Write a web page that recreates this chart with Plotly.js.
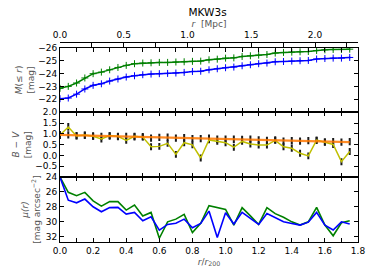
<!DOCTYPE html>
<html>
<head>
<meta charset="utf-8">
<script src="https://cdn.plot.ly/plotly-3.0.1.min.js"></script>
<style>html,body{margin:0;padding:0;background:#fff}#chart{width:374px;height:280px}</style>
</head>
<body>
<div id="chart"></div>
<script>
// r / r200 sampling of the profiles
const rr200 = [0.00,0.05,0.10,0.15,0.20,0.25,0.30,0.35,0.40,0.45,0.50,0.55,0.60,0.65,0.70,0.75,0.80,0.85,0.90,0.95,1.00,1.05,1.10,1.15,1.20,1.25,1.30,1.35,1.40,1.45,1.50,1.55,1.60,1.65,1.70,1.75];

// cumulative magnitude M(<= r)
const magGreen = [-22.85,-23.00,-23.26,-23.65,-23.98,-24.10,-24.28,-24.46,-24.62,-24.75,-24.80,-24.82,-24.85,-24.85,-24.88,-24.90,-24.93,-24.95,-25.05,-25.10,-25.18,-25.20,-25.31,-25.36,-25.41,-25.46,-25.57,-25.62,-25.64,-25.67,-25.69,-25.77,-25.82,-25.85,-25.85,-25.87];
const magBlue  = [-22.05,-22.10,-22.40,-22.80,-23.08,-23.20,-23.41,-23.57,-23.72,-23.82,-23.90,-23.95,-23.98,-24.00,-24.03,-24.08,-24.15,-24.17,-24.28,-24.36,-24.44,-24.49,-24.59,-24.67,-24.75,-24.80,-24.90,-24.92,-24.95,-24.98,-25.00,-25.11,-25.15,-25.18,-25.18,-25.23];
const magErr = [0.08,0.08,0.08,0.08,0.08,0.08,0.08,0.08,0.08,0.08,0.08,0.08,0.08,0.08,0.08,0.08,0.08,0.08,0.08,0.08,0.08,0.08,0.08,0.08,0.08,0.08,0.08,0.08,0.08,0.08,0.08,0.08,0.08,0.08,0.08,0.08];

// B - V colour
const bvLocal = [0.95,1.32,0.90,0.95,0.89,0.76,0.92,0.89,0.70,0.89,0.85,0.40,0.42,0.56,0.05,0.59,0.49,-0.12,0.72,0.65,0.59,0.38,0.65,0.53,0.48,0.48,0.70,0.40,0.33,0.10,-0.02,0.71,0.62,0.51,-0.29,0.18];
const bvLocalErr = [0.18,0.18,0.16,0.16,0.16,0.16,0.16,0.16,0.16,0.16,0.16,0.16,0.16,0.16,0.16,0.16,0.16,0.16,0.16,0.16,0.16,0.16,0.16,0.16,0.16,0.16,0.16,0.16,0.16,0.16,0.16,0.16,0.16,0.16,0.16,0.16];
const bvCum = [0.93,0.95,0.92,0.93,0.90,0.88,0.90,0.87,0.88,0.86,0.87,0.80,0.84,0.85,0.80,0.82,0.78,0.78,0.80,0.75,0.76,0.75,0.74,0.76,0.72,0.70,0.72,0.66,0.68,0.66,0.69,0.70,0.62,0.64,0.62,0.64];
const bvCumErr = [0.17,0.17,0.17,0.17,0.17,0.17,0.17,0.17,0.17,0.17,0.17,0.17,0.17,0.17,0.17,0.17,0.17,0.17,0.17,0.17,0.17,0.17,0.17,0.17,0.17,0.17,0.17,0.17,0.17,0.17,0.17,0.17,0.17,0.17,0.17,0.17];
const bvFit = [0.95,0.94,0.93,0.92,0.91,0.90,0.89,0.88,0.88,0.87,0.86,0.85,0.84,0.83,0.82,0.81,0.80,0.79,0.78,0.77,0.76,0.75,0.74,0.73,0.73,0.72,0.71,0.70,0.69,0.68,0.67,0.66,0.65,0.64,0.63,0.62];

// surface brightness mu(r)
const muGreen = [24.0,26.05,26.5,26.05,27.2,27.9,27.3,27.3,28.43,27.76,29.23,28.74,32.2,30.0,29.64,29.0,31.43,30.2,27.85,28.1,28.34,30.44,28.1,29.2,30.35,28.1,28.9,29.4,30.0,30.44,30.0,28.07,30.44,31.87,30.13,29.86];
const muBlue  = [24.0,27.1,27.45,26.95,27.98,28.65,28.1,28.07,28.97,28.75,29.86,29.32,31.1,30.35,30.2,29.64,30.8,30.22,28.56,32.1,28.79,30.3,28.74,29.55,30.35,28.88,29.4,30.0,30.22,30.44,30.04,28.74,30.44,31.1,30.0,30.3];

// tick labels
const magTicks = [-26,-25,-24,-23,-22];
const magTickText = ['\u221226','\u221225','\u221224','\u221223','\u221222'];
const bvTicks = [2.0,1.5,1.0,0.5,0.0,-0.5];
const bvTickText = ['2.0','1.5','1.0','0.5','0.0','\u22120.5'];
const muTicks = [24,26,28,30,32];
const rTicks = [0,0.2,0.4,0.6,0.8,1.0,1.2,1.4,1.6,1.8];
const rTickText = ['0.0','0.2','0.4','0.6','0.8','1.0','1.2','1.4','1.6','1.8'];
const mpcTicks = [0,0.5,1.0,1.5,2.0];
const mpcTickText = ['0.0','0.5','1.0','1.5','2.0'];

const FONT = 'DejaVu Sans, sans-serif';
const traces = [
  {x: rr200, y: magGreen, xaxis:'x4', yaxis:'y3', mode:'lines+markers',
   line:{color:'#008000', width:1.5},
   marker:{symbol:'cross-thin-open', size:5, line:{color:'#0b3d0b', width:1}},
   error_y:{type:'data', array:magErr, visible:true, color:'#0b3d0b', thickness:1, width:0}},
  {x: rr200, y: magBlue, xaxis:'x4', yaxis:'y3', mode:'lines+markers',
   line:{color:'#0000ff', width:1.5},
   marker:{symbol:'cross-thin-open', size:5, line:{color:'#000060', width:1}},
   error_y:{type:'data', array:magErr, visible:true, color:'#000060', thickness:1, width:0}},
  // empty trace so the physical-radius axis on top is registered
  {x: [], y: [], xaxis:'x2', yaxis:'y3', mode:'lines', hoverinfo:'skip'},
  {x: rr200, y: bvCum, xaxis:'x3', yaxis:'y2', mode:'markers',
   marker:{size:1, color:'rgba(0,0,0,0)'},
   error_y:{type:'data', array:bvCumErr, visible:true, color:'#1a1a1a', thickness:2, width:0}},
  {x: rr200, y: bvLocal, xaxis:'x3', yaxis:'y2', mode:'lines',
   line:{color:'#bfbf00', width:1.5},
   error_y:{type:'data', array:bvLocalErr, visible:true, color:'#1a1a1a', thickness:2, width:0}},
  {x: rr200, y: bvFit, xaxis:'x3', yaxis:'y2', mode:'lines',
   line:{color:'rgba(255,120,0,0.85)', width:2.2}},
  {x: rr200, y: muGreen, xaxis:'x', yaxis:'y', mode:'lines',
   line:{color:'#008000', width:1.6}},
  {x: rr200, y: muBlue, xaxis:'x', yaxis:'y', mode:'lines',
   line:{color:'#0000ff', width:1.6}}
];

const axBase = {showline:true, linecolor:'#000', linewidth:1, mirror:'ticks', ticks:'inside',
  ticklen:4, tickwidth:1, tickcolor:'#000', showgrid:false, zeroline:false,
  tickfont:{family:FONT, size:9, color:'#000'}};
const xBase = Object.assign({}, axBase, {range:[0,1.8], tickvals:rTicks, ticktext:rTickText,
  minor:{dtick:0.1, tick0:0, ticks:'inside', ticklen:4, tickcolor:'#000', tickwidth:1, showgrid:false}});

const titleFont = {family:FONT, size:9, color:'#555'};
const layout = {
  width:374, height:280, showlegend:false,
  paper_bgcolor:'#fff', plot_bgcolor:'#fff',
  margin:{l:60, r:16, t:42, b:38},
  title:{text:'MKW3s', font:{family:FONT, size:10.5, color:'#000'}, x:0.555, xanchor:'center', y:0.957, yanchor:'middle'},
  xaxis: Object.assign({}, xBase, {anchor:'y', domain:[0,1],
    title:{text:'<i>r</i>/<i>r</i><sub>200</sub>', font:titleFont, standoff:3}}),
  xaxis3: Object.assign({}, xBase, {anchor:'y2', domain:[0,1], matches:'x', showticklabels:false}),
  xaxis4: Object.assign({}, xBase, {anchor:'y3', domain:[0,1], matches:'x', showticklabels:false}),
  xaxis2: Object.assign({}, axBase, {overlaying:'x4', anchor:'free', position:1, side:'top', mirror:false,
    range:[0,2.337], tickvals:mpcTicks, ticktext:mpcTickText,
    minor:{dtick:0.25, tick0:0, ticks:'inside', ticklen:4, tickcolor:'#000', tickwidth:1, showgrid:false},
    title:{text:'<i>r</i>  [Mpc]', font:titleFont, standoff:0}}),
  yaxis: Object.assign({}, axBase, {anchor:'x', domain:[0,0.325], range:[32.7,24],
    tickvals:muTicks, title:{text:'<i>\u03bc(r)</i><br>[mag arcsec<sup>\u22122</sup>]', font:titleFont, standoff:3}}),
  yaxis2: Object.assign({}, axBase, {anchor:'x3', domain:[0.325,0.6485], range:[-1,2],
    tickvals:bvTicks, ticktext:bvTickText, title:{text:'<i>B</i> \u2212 <i>V</i><br>[mag]', font:titleFont, standoff:2}}),
  yaxis3: Object.assign({}, axBase, {anchor:'x4', domain:[0.6485,0.9725], range:[-21,-26],
    tickvals:magTicks, ticktext:magTickText, title:{text:'<i>M</i>(\u2264 <i>r</i>)<br>[mag]', font:titleFont, standoff:2}})
};

Plotly.newPlot('chart', traces, layout, {staticPlot:true, displayModeBar:false});
</script>
</body>
</html>
